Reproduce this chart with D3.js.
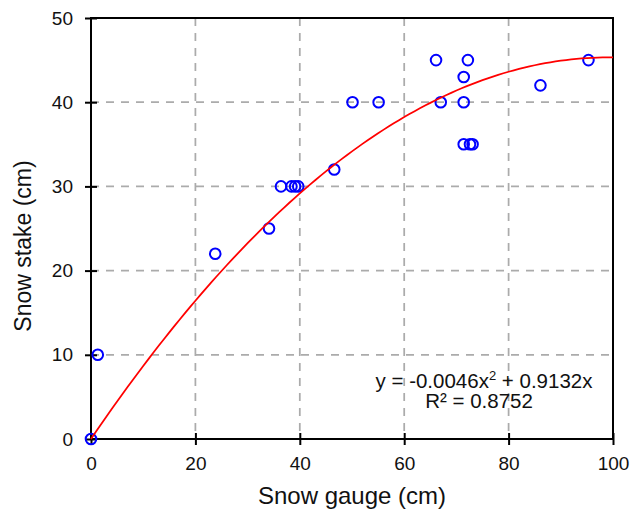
<!DOCTYPE html>
<html>
<head>
<meta charset="utf-8">
<script src="https://cdn.jsdelivr.net/npm/d3@7"></script>
<style>
  body { margin: 0; background: #fff; }
  text { font-family: "Liberation Sans", Arial, sans-serif; }
</style>
</head>
<body>
<div id="chart"></div>
<script>
// snow gauge vs snow stake readings (cm)
var gauge = [0, 1.3, 23.8, 34.1, 36.4, 38.4, 39.1, 39.7, 46.6, 50.1, 55.1, 66.1, 67.0, 71.4, 71.4, 71.4, 72.6, 73.1, 72.2, 86.1, 95.3];
var stake = [0, 10, 22, 25, 30, 30, 30, 30, 32, 40, 40, 45, 40, 43, 40, 35, 35, 35, 45, 42, 45];

// polynomial trendline (order 2, intercept 0) as printed on the chart
var coefA = -0.0046;
var coefB = 0.9132;
var rSquared = "0.8752";

var xTicks = [0, 20, 40, 60, 80, 100];
var yTicks = [0, 10, 20, 30, 40, 50];

var width = 632, height = 514;
var plotL = 91, plotR = 613, plotT = 18, plotB = 439;

var svg = d3.select("#chart").append("svg")
    .attr("width", width)
    .attr("height", height);

var x = d3.scaleLinear().domain([0, 100]).range([plotL, plotR]);
var y = d3.scaleLinear().domain([0, 50]).range([plotB, plotT]);

// grid
svg.append("g").selectAll("line")
    .data(xTicks.slice(1, -1))
    .enter().append("line")
    .attr("x1", d => x(d)).attr("x2", d => x(d))
    .attr("y1", plotT).attr("y2", plotB)
    .attr("stroke", "#ababab").attr("stroke-width", 1.75)
    .attr("stroke-dasharray", "8,7");

svg.append("g").selectAll("line")
    .data(yTicks.slice(1, -1))
    .enter().append("line")
    .attr("x1", plotL).attr("x2", plotR)
    .attr("y1", d => y(d)).attr("y2", d => y(d))
    .attr("stroke", "#ababab").attr("stroke-width", 1.75)
    .attr("stroke-dasharray", "8,7");

// axes
var xAxis = svg.append("g")
    .attr("transform", "translate(0," + plotB + ")")
    .call(d3.axisBottom(x).tickValues(xTicks).tickSizeInner(6).tickSizeOuter(0).tickPadding(12));
var yAxis = svg.append("g")
    .attr("transform", "translate(" + plotL + ",0)")
    .call(d3.axisLeft(y).tickValues(yTicks).tickSizeInner(6).tickSizeOuter(0).tickPadding(12));

[xAxis, yAxis].forEach(function(ax) {
    ax.select(".domain").remove();
    ax.selectAll("line").attr("stroke", "#000").attr("stroke-width", 2);
    ax.selectAll("text")
        .attr("fill", "#111")
        .style("font-size", "19px")
        .style("font-family", "'Liberation Sans', Arial, sans-serif");
});
// ticks cross the axis
xAxis.selectAll(".tick line").attr("y1", -6);
yAxis.selectAll(".tick line").attr("x1", 6);

// frame
svg.append("rect")
    .attr("x", plotL).attr("y", plotT)
    .attr("width", plotR - plotL).attr("height", plotB - plotT)
    .attr("fill", "none").attr("stroke", "#000").attr("stroke-width", 2);

// points
svg.append("g").selectAll("circle")
    .data(gauge.map((g, i) => [g, stake[i]]))
    .enter().append("circle")
    .attr("cx", d => x(d[0]))
    .attr("cy", d => y(d[1]))
    .attr("r", 5.3)
    .attr("fill", "none")
    .attr("stroke", "#0000ff")
    .attr("stroke-width", 2);

// trendline
var trend = d3.range(0, 100.5, 1).map(v => [v, coefA * v * v + coefB * v]);
svg.append("path")
    .datum(trend)
    .attr("d", d3.line().x(d => x(d[0])).y(d => y(d[1])))
    .attr("fill", "none")
    .attr("stroke", "#ff0000")
    .attr("stroke-width", 1.75);

// equation
var eq = svg.append("text")
    .attr("x", 484).attr("y", 388)
    .attr("text-anchor", "middle")
    .attr("fill", "#111")
    .style("font-size", "20.5px");
eq.append("tspan").text("y = " + coefA + "x");
eq.append("tspan").attr("dy", -8).style("font-size", "13px").text("2");
eq.append("tspan").attr("dy", 8).text(" + " + coefB + "x");

svg.append("text")
    .attr("x", 479).attr("y", 408)
    .attr("text-anchor", "middle")
    .attr("fill", "#111")
    .style("font-size", "20.5px")
    .text("R² = " + rSquared);

// axis titles
svg.append("text")
    .attr("x", (plotL + plotR) / 2).attr("y", 504)
    .attr("text-anchor", "middle")
    .attr("fill", "#111")
    .style("font-size", "24px")
    .text("Snow gauge (cm)");

svg.append("text")
    .attr("transform", "translate(31," + 246 + ") rotate(-90)")
    .attr("text-anchor", "middle")
    .attr("fill", "#111")
    .style("font-size", "23px")
    .text("Snow stake (cm)");
</script>
</body>
</html>
